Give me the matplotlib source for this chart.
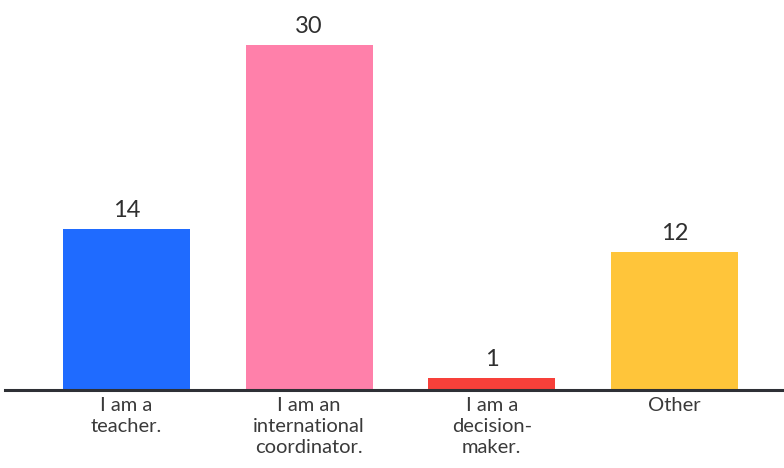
import matplotlib.pyplot as plt

categories = ["I am a\nteacher.", "I am an\ninternational\ncoordinator.",
              "I am a\ndecision-\nmaker.", "Other"]
values = [14, 30, 1, 12]
colors = ["#1F6BFF", "#FF80AA", "#F7403A", "#FFC53A"]

plt.rcParams['font.family'] = ['Lato', 'DejaVu Sans']

fig = plt.figure(figsize=(7.84, 4.68), dpi=100)
ax = fig.add_axes([5 / 784, 78 / 468, 779 / 784, 390 / 468])

x = list(range(len(values)))
bars = ax.bar(x, values, width=0.695, color=colors)

for xi, v in zip(x, values):
    ax.annotate(str(v), (xi, v), xytext=(0, 6), textcoords="offset points",
                ha="center", va="bottom", fontsize=17, color="#2f2f2f")

ax.set_xlim(-0.665, 3.6)
ax.set_ylim(0, 33.9)
ax.set_xticks(x)
ax.set_xticklabels(categories, fontsize=14.5, color="#3a3a3a", linespacing=1.3)
ax.tick_params(axis="x", length=0, pad=5)
ax.set_yticks([])

for side in ["top", "right", "left"]:
    ax.spines[side].set_visible(False)
ax.spines["bottom"].set_color("#2e3035")
ax.spines["bottom"].set_linewidth(2.2)

fig.savefig("out.png", dpi=100)
